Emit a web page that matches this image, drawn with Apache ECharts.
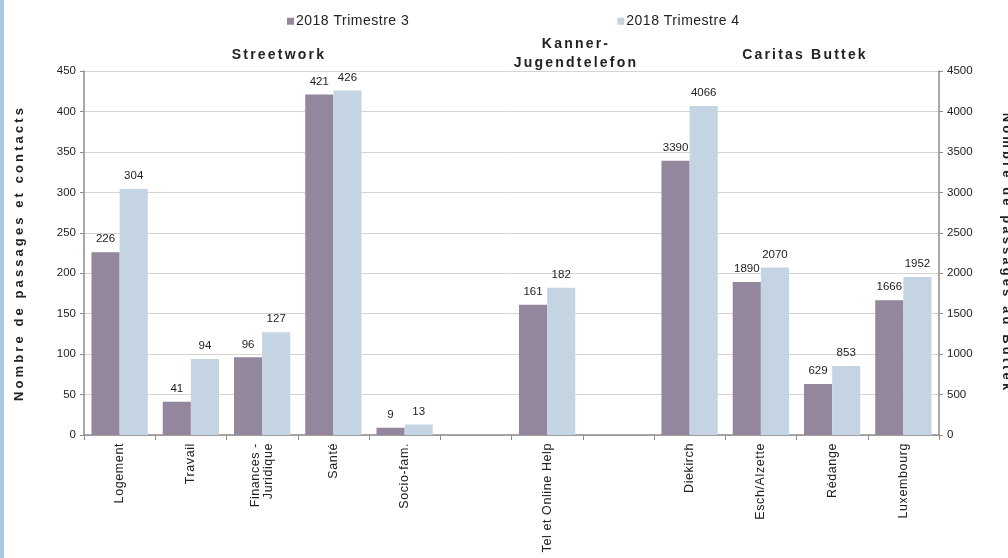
<!DOCTYPE html>
<html>
<head>
<meta charset="utf-8">
<script src="https://cdn.jsdelivr.net/npm/echarts@6/dist/echarts.min.js"></script>
<style>
html,body{margin:0;padding:0;background:#fff;}
#chart{width:1008px;height:558px;}
</style>
</head>
<body>
<div id="chart"></div>
<script>
const categories = ['Logement', 'Travail', 'Finances -\nJuridique', 'Santé', 'Socio-fam.', '', 'Tel et Online Help', '', 'Diekirch', 'Esch/Alzette', 'Rédange', 'Luxembourg'];
const seriesNames = ['2018 Trimestre 3', '2018 Trimestre 4'];
const contactsT3 = [226, 41, 96, 421, 9, null, 161, null, null, null, null, null];
const contactsT4 = [304, 94, 127, 426, 13, null, 182, null, null, null, null, null];
const buttekT3 = [null, null, null, null, null, null, null, null, 3390, 1890, 629, 1666];
const buttekT4 = [null, null, null, null, null, null, null, null, 4066, 2070, 853, 1952];
const leftTicks = {min: 0, max: 450, interval: 50};
const rightTicks = {min: 0, max: 4500, interval: 500};
const groupTitles = ['Streetwork', 'Kanner-\nJugendtelefon', 'Caritas Buttek'];
const leftAxisTitle = 'Nombre de passages et contacts';
const rightAxisTitle = 'Nombre de passages au Buttek';

// letter spacing for the spaced-out bold titles and legend (canvas letterSpacing)
(function () {
  const proto = CanvasRenderingContext2D.prototype;
  const desc = Object.getOwnPropertyDescriptor(proto, 'font');
  if (!desc || !('letterSpacing' in proto)) return;
  Object.defineProperty(proto, 'font', {
    configurable: true,
    get: function () { return desc.get.call(this); },
    set: function (v) {
      desc.set.call(this, v);
      let ls = '0px';
      if (/bold/.test(v) && /\b13px/.test(v)) ls = '3.1px';
      else if (/bold/.test(v) && /\b14px/.test(v)) ls = '2.2px';
      else if (/\b14px/.test(v)) ls = '0.5px';
      else if (/\b12\.5px/.test(v)) ls = '0.6px';
      this.letterSpacing = ls;
    }
  });
})();

const C3 = '#94869c';
const C4 = '#c4d4e3';
const AX = '#8c8c8c';
const FR = "'Liberation Sans', Arial, sans-serif";

const chart = echarts.init(document.getElementById('chart'), null, {renderer: 'canvas'});

const labelCfg = {show: true, position: 'top', distance: 7, color: '#222', fontFamily: FR, fontSize: 11.5};

function barSeries(name, data, color, idx) {
  return {
    name: name, type: 'bar', data: data,
    xAxisIndex: idx, yAxisIndex: idx,
    barGap: '0%', barCategoryGap: '21%',
    itemStyle: {color: color},
    label: labelCfg,
    emphasis: {disabled: true}
  };
}

const xBase = {
  type: 'category', data: categories, boundaryGap: true,
  axisLine: {show: true, lineStyle: {color: AX, width: 1.5}},
  axisTick: {show: true, alignWithLabel: false, length: 5, lineStyle: {color: AX}},
  axisLabel: {rotate: 90, interval: 0, margin: 8, color: '#222', fontFamily: FR, fontSize: 12.5, align: 'right', lineHeight: 13},
  splitLine: {show: false}
};

chart.setOption({
  animation: false,
  backgroundColor: '#fff',
  legend: {
    top: 9, left: 282, itemGap: 208, itemWidth: 7, itemHeight: 7,
    icon: 'rect',
    textStyle: {fontFamily: FR, fontSize: 14, color: '#222', padding: [0, 0, 0, -3]},
    data: seriesNames
  },
  grid: {left: 84, right: 69, top: 71, bottom: 123, containLabel: false, outerBoundsMode: 'none'},
  xAxis: [xBase, Object.assign({}, xBase, {show: false})],
  yAxis: [
    {
      type: 'value', position: 'left', min: leftTicks.min, max: leftTicks.max, interval: leftTicks.interval,
      axisLine: {show: true, lineStyle: {color: AX, width: 1.5}},
      axisTick: {show: true, length: 4, lineStyle: {color: AX}},
      axisLabel: {color: '#222', fontFamily: FR, fontSize: 11.5, margin: 8, formatter: function (v) { return String(v); }},
      splitLine: {show: true, lineStyle: {color: '#d4d4d4', width: 1}},
      name: leftAxisTitle, nameLocation: 'middle', nameGap: 57, nameRotate: 90,
      nameTextStyle: {fontFamily: FR, fontWeight: 'bold', fontSize: 13, color: '#222'}
    },
    {
      type: 'value', position: 'right', min: rightTicks.min, max: rightTicks.max, interval: rightTicks.interval,
      axisLine: {show: true, lineStyle: {color: AX, width: 1.5}},
      axisTick: {show: true, length: 4, lineStyle: {color: AX}},
      axisLabel: {color: '#222', fontFamily: FR, fontSize: 11.5, margin: 8, formatter: function (v) { return String(v); }},
      splitLine: {show: false},
      name: rightAxisTitle, nameLocation: 'middle', nameGap: 60, nameRotate: -90,
      nameTextStyle: {fontFamily: FR, fontWeight: 'bold', fontSize: 13, color: '#222'}
    }
  ],
  graphic: [
    {type: 'rect', left: 0, top: 0, shape: {width: 4, height: 558}, style: {fill: '#a9c8e6'}, silent: true},
    {type: 'text', x: 279, y: 55, style: {text: groupTitles[0], font: "bold 14px 'Liberation Sans', Arial, sans-serif", fill: '#222', align: 'center', verticalAlign: 'middle'}},
    {type: 'text', x: 576, y: 54, style: {text: groupTitles[1], font: "bold 14px 'Liberation Sans', Arial, sans-serif", fill: '#222', align: 'center', verticalAlign: 'middle', lineHeight: 19}},
    {type: 'text', x: 805, y: 55, style: {text: groupTitles[2], font: "bold 14px 'Liberation Sans', Arial, sans-serif", fill: '#222', align: 'center', verticalAlign: 'middle'}}
  ],
  series: [
    barSeries(seriesNames[0], contactsT3, C3, 0),
    barSeries(seriesNames[1], contactsT4, C4, 0),
    barSeries(seriesNames[0], buttekT3, C3, 1),
    barSeries(seriesNames[1], buttekT4, C4, 1)
  ]
});
</script>
</body>
</html>
